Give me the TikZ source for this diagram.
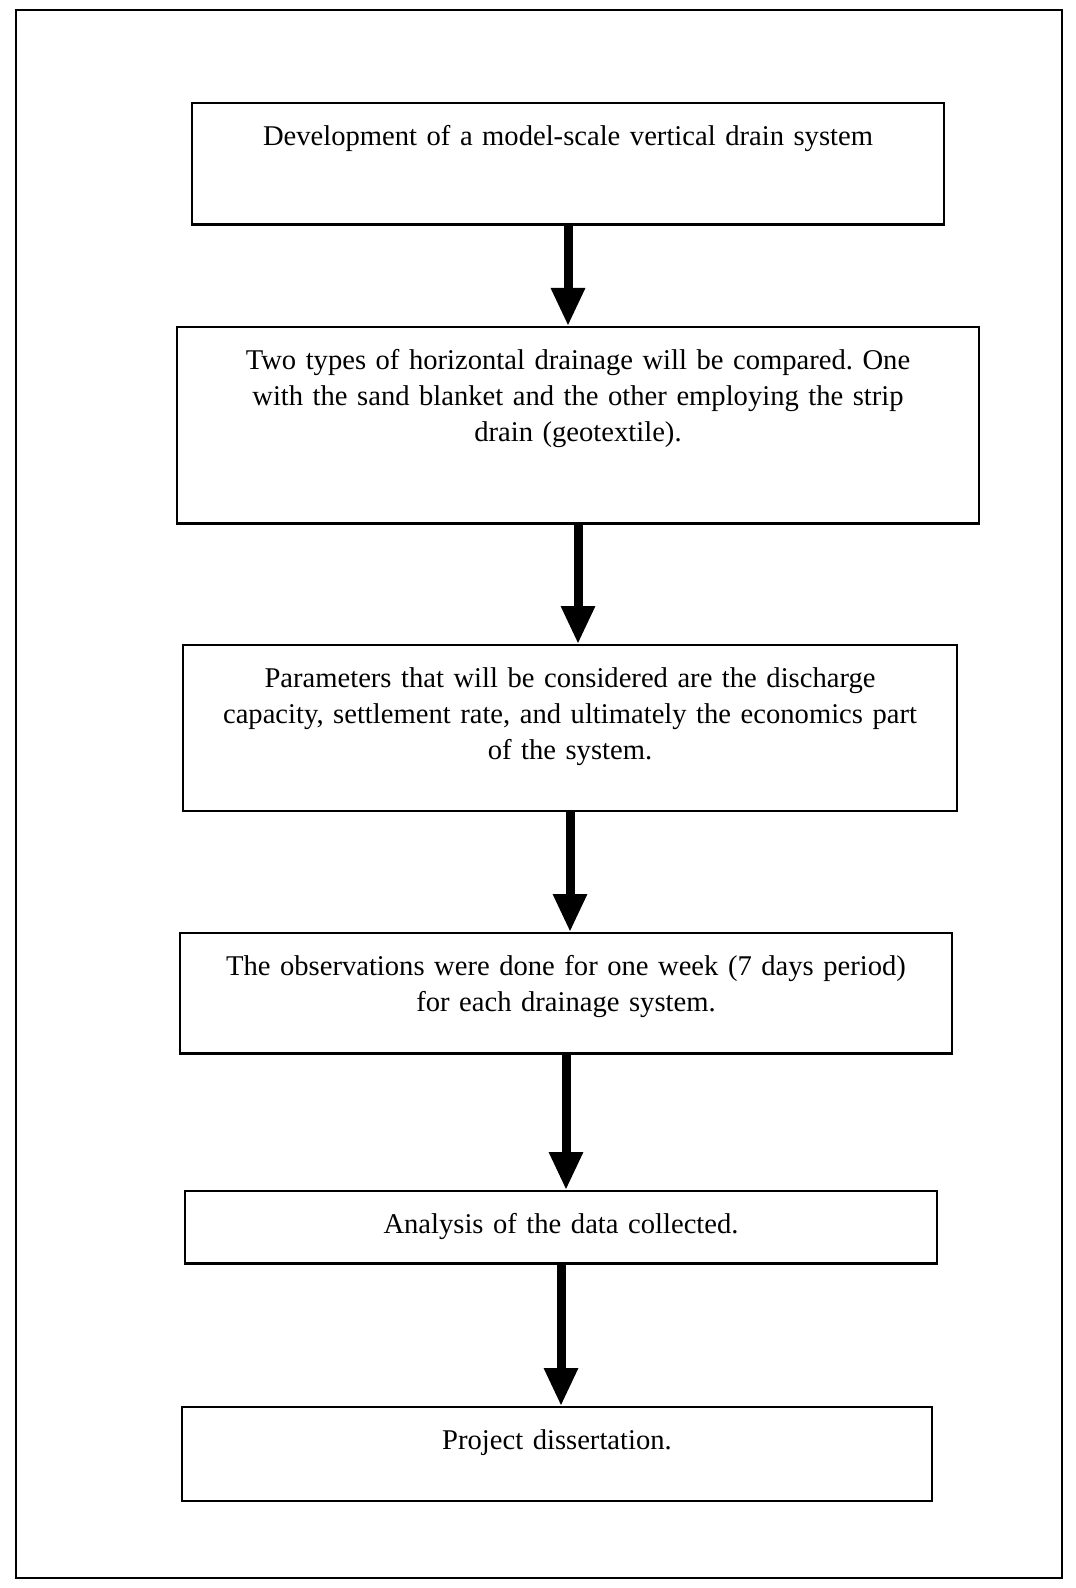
\documentclass[tikz,border=0pt]{standalone}
\usepackage{fontspec}
\setmainfont{Liberation Serif}
\usetikzlibrary{arrows.meta}
\frenchspacing

\begin{document}
\begin{tikzpicture}[
  x=0.5pt, y=-0.5pt,
  >={Triangle[width=16pt,length=19pt]},
  font=\fontsize{14.3}{18}\selectfont,
  stepbox/.style={draw, line width=1.2pt, anchor=north, align=center, inner xsep=6pt, inner ysep=11pt},
  arrow/.style={->, line width=4.5pt}
]
\useasboundingbox (0,0) rectangle (1075,1588);
\draw[line width=1pt] (16,10) rectangle (1062,1578);

\node[stepbox, text width=364pt, text depth=28.5pt] (dev) at (568,102) {Development of a model-scale vertical drain system};
\node[stepbox, text width=389pt, text depth=66pt] (types) at (578,326) {Two types of horizontal drainage will be compared. One\\with the sand blanket and the other employing the strip\\drain (geotextile).};
\node[stepbox, text width=375pt, text depth=51pt] (params) at (570,644) {Parameters that will be considered are the discharge\\capacity, settlement rate, and ultimately the economics part\\of the system.};
\node[stepbox, text width=374pt, text depth=28pt] (obs) at (566,932) {The observations were done for one week (7 days period)\\for each drainage system.};
\node[stepbox, text width=364pt, text depth=4pt] (analysis) at (561,1190) {Analysis of the data collected.};
\node[stepbox, text width=363pt, text depth=15pt] (report) at (557,1406) {Project dissertation.};

\draw[arrow] (dev.south) -- (dev.south |- types.north);
\draw[arrow] (types.south) -- (types.south |- params.north);
\draw[arrow] (params.south) -- (params.south |- obs.north);
\draw[arrow] (obs.south) -- (obs.south |- analysis.north);
\draw[arrow] (analysis.south) -- (analysis.south |- report.north);
\end{tikzpicture}
\end{document}
